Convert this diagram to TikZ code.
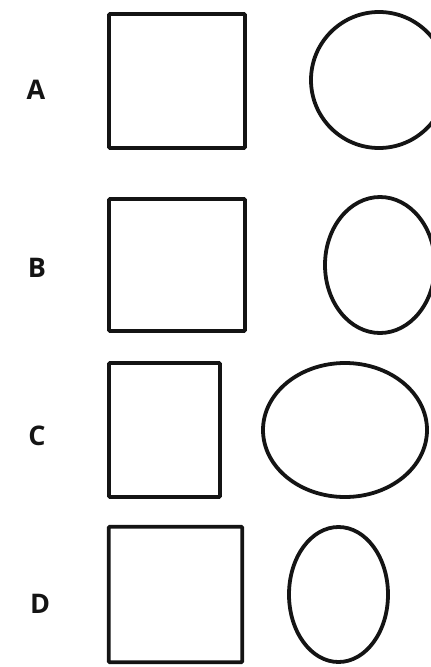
\documentclass[tikz,border=0pt]{standalone}
\usepackage{fontspec}
\setmainfont{Open Sans}
\usepackage{xcolor}
\usepackage{tikz}
\usetikzlibrary{shapes.geometric, positioning}
\definecolor{myink}{rgb}{0.08, 0.08, 0.08}
\tikzstyle{box} = [rectangle, draw=myink, line width=3.8pt, inner sep=0pt, rounded corners=1pt]
\tikzstyle{oval} = [ellipse, draw=myink, line width=3.8pt, inner sep=0pt]
\tikzstyle{letter} = [font=\fontsize{27}{32}\selectfont\bfseries, text=myink]

\begin{document}
\begin{tikzpicture}[x=1pt, y=-1pt]
\useasboundingbox (0,0) rectangle (431,667);

\node[letter] (labelA) at (36,90) {A};
\node[box, minimum width=136pt, minimum height=134pt] (boxA) at (177,81) {};
\node[oval, minimum width=136pt, minimum height=136pt] (ovalA) at (379,80) {};

\node[letter] (labelB) at (37,268) {B};
\node[box, minimum width=136pt, minimum height=132pt] (boxB) at (177,265) {};
\node[oval, minimum width=110pt, minimum height=136pt] (ovalB) at (380,265) {};

\node[letter] (labelC) at (37,436) {C};
\node[box, minimum width=111pt, minimum height=134pt] (boxC) at (164.5,430) {};
\node[oval, minimum width=164pt, minimum height=134pt] (ovalC) at (345,430) {};

\node[letter] (labelD) at (40,604) {D};
\node[box, minimum width=133.5pt, minimum height=135.5pt] (boxD) at (175.5,594.5) {};
\node[oval, minimum width=99pt, minimum height=135pt] (ovalD) at (338.5,594.5) {};

\end{tikzpicture}
\end{document}
